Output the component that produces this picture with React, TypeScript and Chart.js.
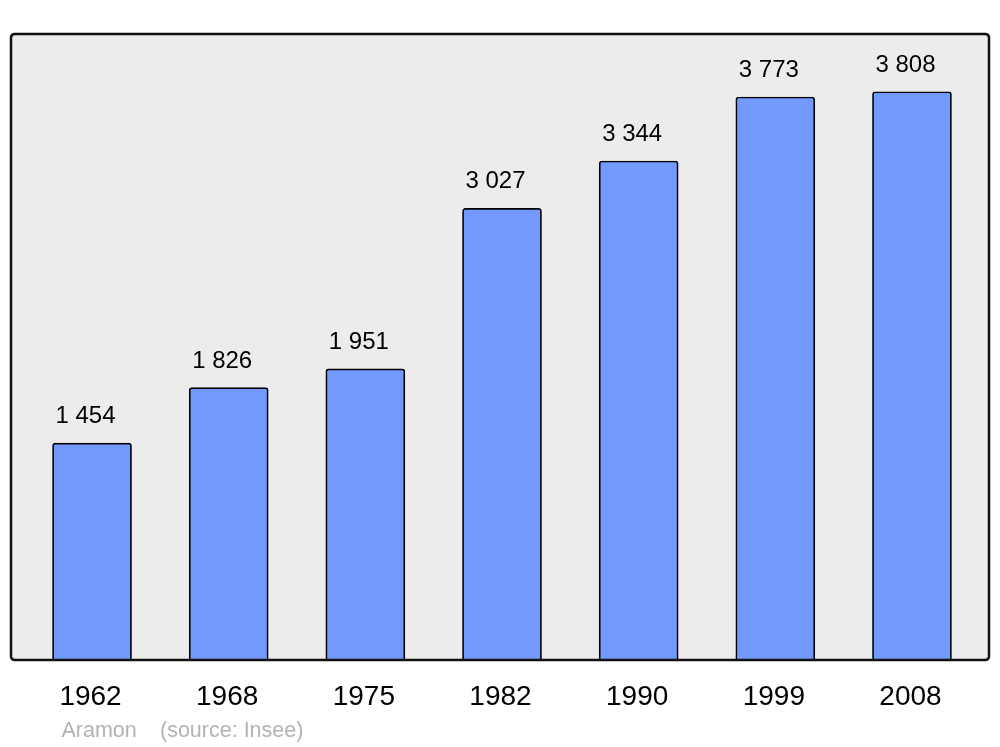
import React, { useEffect, useRef } from "react";
import { Chart, registerables } from "chart.js";

Chart.register(...registerables);

const years = ["1962", "1968", "1975", "1982", "1990", "1999", "2008"];
const population = [1454, 1826, 1951, 3027, 3344, 3773, 3808];
const valueLabels = ["1 454", "1 826", "1 951", "3 027", "3 344", "3 773", "3 808"];
const sourceName = "Aramon";
const sourceText = "(source: Insee)";
const yMax = 4195;

const FONT = "'Liberation Sans', Arial, sans-serif";

function roundRect(ctx: CanvasRenderingContext2D, x: number, y: number, w: number, h: number, r: number) {
  ctx.beginPath();
  ctx.moveTo(x + r, y);
  ctx.lineTo(x + w - r, y);
  ctx.quadraticCurveTo(x + w, y, x + w, y + r);
  ctx.lineTo(x + w, y + h - r);
  ctx.quadraticCurveTo(x + w, y + h, x + w - r, y + h);
  ctx.lineTo(x + r, y + h);
  ctx.quadraticCurveTo(x, y + h, x, y + h - r);
  ctx.lineTo(x, y + r);
  ctx.quadraticCurveTo(x, y, x + r, y);
  ctx.closePath();
}

const boxPlugin = {
  id: "boxPlugin",
  beforeDatasetsDraw(chart: any) {
    const { ctx, chartArea } = chart;
    const x = chartArea.left - 12.7;
    const w = chartArea.right + 8.7 - x;
    ctx.save();
    roundRect(ctx, x, chartArea.top, w, chartArea.bottom - chartArea.top, 4);
    ctx.fillStyle = "#ececec";
    ctx.fill();
    ctx.restore();
  },
  afterDatasetsDraw(chart: any) {
    const { ctx, chartArea } = chart;
    const x = chartArea.left - 12.7;
    const w = chartArea.right + 8.7 - x;
    ctx.save();
    roundRect(ctx, x, chartArea.top, w, chartArea.bottom - chartArea.top, 4);
    ctx.lineWidth = 2.5;
    ctx.strokeStyle = "#111111";
    ctx.stroke();

    const meta = chart.getDatasetMeta(0);
    ctx.fillStyle = "#000000";
    ctx.textAlign = "center";
    ctx.textBaseline = "alphabetic";
    ctx.font = `24px ${FONT}`;
    meta.data.forEach((bar: any, i: number) => {
      ctx.fillText(valueLabels[i], bar.x - 6.5, bar.y - 20);
    });
    ctx.font = `28px ${FONT}`;
    meta.data.forEach((bar: any, i: number) => {
      ctx.fillText(years[i], bar.x - 1.5, chartArea.bottom + 45);
    });
    ctx.textAlign = "left";
    ctx.font = `21.5px ${FONT}`;
    ctx.fillStyle = "#b3b3b3";
    ctx.fillText(sourceName, x + 50.5, chartArea.bottom + 77);
    ctx.fillText(sourceText, x + 149, chartArea.bottom + 77);
    ctx.restore();
  },
};

export default function App() {
  const ref = useRef<HTMLCanvasElement>(null);
  useEffect(() => {
    if (!ref.current) return;
    const chart = new Chart(ref.current, {
      type: "bar",
      data: {
        labels: years,
        datasets: [
          {
            data: population,
            backgroundColor: "#7399ff",
            borderColor: "#000000",
            borderWidth: 1.7,
            borderRadius: { topLeft: 3, topRight: 3, bottomLeft: 0, bottomRight: 0 },
            borderSkipped: "bottom",
            barThickness: 79,
          },
        ],
      },
      options: {
        animation: false,
        responsive: false,
        maintainAspectRatio: false,
        layout: { padding: { left: 23.7, right: 19.7, top: 34, bottom: 87 } },
        plugins: { legend: { display: false }, tooltip: { enabled: false }, title: { display: false } },
        scales: {
          x: { display: false },
          y: { display: false, min: 0, max: yMax },
        },
      },
      plugins: [boxPlugin],
    });
    return () => chart.destroy();
  }, []);
  return (
    <div style={{ position: "fixed", left: 0, top: 0, width: 1000, height: 747, background: "#ffffff" }}>
      <canvas ref={ref} width={1000} height={747} style={{ width: 1000, height: 747 }} />
    </div>
  );
}
